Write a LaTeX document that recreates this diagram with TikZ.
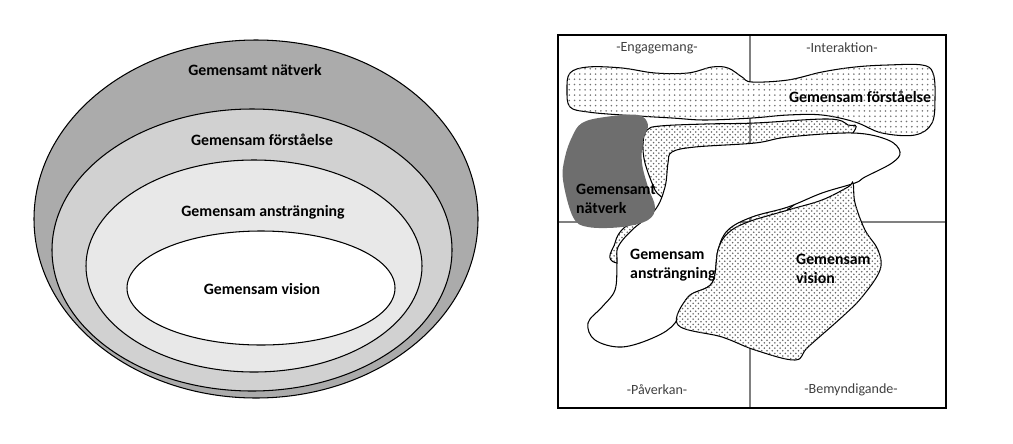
\documentclass[tikz,border=0pt]{standalone}
\usepackage{fontspec}
\setmainfont{Carlito}
\usetikzlibrary{patterns}
\begin{document}
\begin{tikzpicture}[x=0.02cm,y=-0.02cm,
  ring/.style={draw=black,line width=0.6pt},
  lbl/.style={font=\bfseries\fontsize{9}{11}\selectfont},
  qlbl/.style={font=\fontsize{8}{10}\selectfont,text=black!75},
  blob/.style={draw=black,line width=0.6pt},
  dotted fill/.style={pattern=dots,pattern color=black!55},
  hatch fill/.style={pattern=crosshatch dots,pattern color=black!60}]
\useasboundingbox (0,0) rectangle (1013,443);
% left: nested ellipses
\draw[ring,fill=black!33] (256,219) ellipse [x radius=222,y radius=179];
\draw[ring,fill=black!18] (252,250) ellipse [x radius=200,y radius=141];
\draw[ring,fill=black!9] (254,266) ellipse [x radius=168,y radius=106];
\draw[ring,fill=white] (261,288) ellipse [x radius=134,y radius=57];
\node[lbl] (n1) at (255,70) {Gemensamt nätverk};
\node[lbl] (n2) at (262,140) {Gemensam förståelse};
\node[lbl] (n3) at (263,212) {Gemensam ansträngning};
\node[lbl] (n4) at (262,289) {Gemensam vision};
% right: box
\draw[black!50,line width=0.6pt] (750,35) -- (750,408) (558,222) -- (946,222);
% hatched background
\draw[blob,hatch fill] plot[smooth cycle,tension=0.6] coordinates{(647,130)(660,126)(705,124)(755,123)(828,119)(848,125)(853,133)(800,200)(700,260)(617,263)(615,243)(625,227)(648,217)(662,200)(655,190)(645,163)(643,143)};
% anstrangning white
\draw[blob,fill=white] plot[smooth cycle,tension=0.6] coordinates{(672,152)(695,147)(755,143)(788,137)(853,133)(888,140)(900,152)(892,163)(865,177)(855,183)(822,193)(788,207)(752,217)(728,230)(718,250)(712,283)(688,297)(675,323)(655,337)(622,347)(595,340)(588,323)(602,307)(615,290)(617,263)(618,247)(632,230)(655,210)(665,187)(668,163)};
% vision
\draw[blob,fill=white] plot[smooth cycle,tension=0.6] coordinates{(728,233)(748,222)(788,210)(822,200)(848,187)(853,183)(855,203)(865,230)(878,250)(880,270)(862,297)(842,317)(808,347)(795,360)(755,350)(722,337)(678,325)(688,297)(712,283)(718,250)};
\fill[hatch fill] plot[smooth cycle,tension=0.6] coordinates{(728,233)(748,222)(788,210)(822,200)(848,187)(853,183)(855,203)(865,230)(878,250)(880,270)(862,297)(842,317)(808,347)(795,360)(755,350)(722,337)(678,325)(688,297)(712,283)(718,250)};
% forstaelse
\draw[blob,fill=white] plot[smooth cycle,tension=0.6] coordinates{(570,73)(588,67)(622,68)(655,73)(688,73)(712,67)(728,68)(742,77)(752,82)(788,80)(822,72)(855,67)(888,65)(922,65)(933,73)(935,97)(932,123)(915,135)(882,133)(855,122)(822,115)(788,115)(752,118)(705,120)(672,118)(622,115)(588,112)(570,107)(567,90)};
\fill[dotted fill] plot[smooth cycle,tension=0.6] coordinates{(570,73)(588,67)(622,68)(655,73)(688,73)(712,67)(728,68)(742,77)(752,82)(788,80)(822,72)(855,67)(888,65)(922,65)(933,73)(935,97)(932,123)(915,135)(882,133)(855,122)(822,115)(788,115)(752,118)(705,120)(672,118)(622,115)(588,112)(570,107)(567,90)};
% natverk
\fill[black!57] plot[smooth cycle,tension=0.6] coordinates{(582,123)(605,117)(638,115)(648,125)(643,140)(642,163)(648,187)(655,207)(648,220)(622,227)(588,227)(573,217)(563,180)(565,157)(572,137)};
\draw[line width=1.2pt] (558,35) rectangle (946,408);
% labels
\node[qlbl] (q1) at (657,48) {-Engagemang-};
\node[qlbl] (q2) at (842,48) {-Interaktion-};
\node[qlbl] (q3) at (657,390) {-Påverkan-};
\node[qlbl] (q4) at (851,390) {-Bemyndigande-};
\node[lbl] (r1) at (860,97) {Gemensam förståelse};
\node[lbl,align=left,anchor=west] (r2) at (570,199) {Gemensamt\\nätverk};
\node[lbl,align=left,anchor=west] (r3) at (624,265) {Gemensam\\ansträngning};
\node[lbl,align=left,anchor=west] (r4) at (790,269) {Gemensam\\vision};
\end{tikzpicture}
\end{document}
